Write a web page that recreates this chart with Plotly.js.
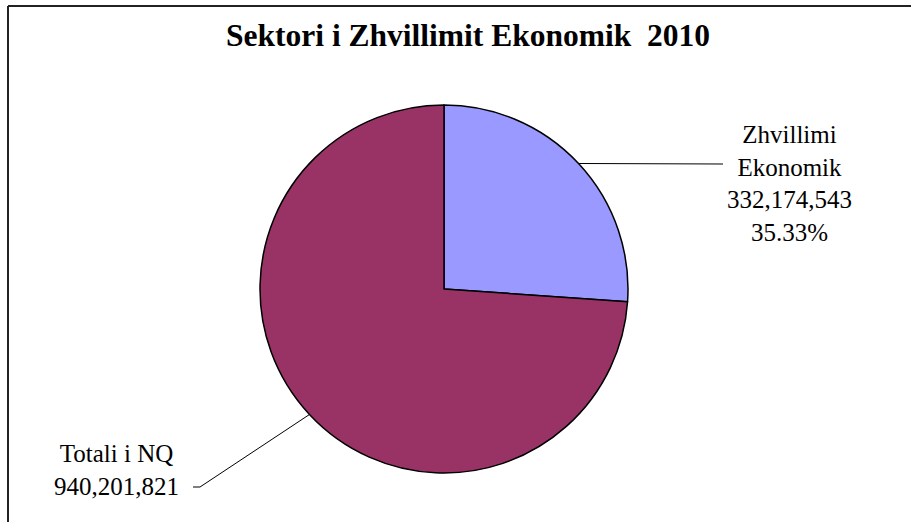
<!DOCTYPE html>
<html>
<head>
<meta charset="utf-8">
<script src="https://cdn.plot.ly/plotly-3.0.1.min.js"></script>
<style>html,body{margin:0;padding:0;background:#fff;}#chart{width:911px;height:522px;}</style>
</head>
<body>
<div id="chart"></div>
<script>
const categories = ["Zhvillimi Ekonomik", "Totali i NQ"];
const values = [332174543, 940201821];
const labelLines = [["Zhvillimi", "Ekonomik", "332,174,543", "35.33%"], ["Totali i NQ", "940,201,821"]];
const colors = ["#9999FF", "#993366"];
const titleText = "Sektori i Zhvillimit Ekonomik\u00a0\u00a02010";

const W = 911, H = 522;
const cx = 444, cy = 289, R = 184;
const font = "Liberation Serif";

const total = values.reduce((a, b) => a + b, 0);
let acc = 0;
const mids = values.map(v => { const m = (acc + v / 2) / total * 2 * Math.PI; acc += v; return m; });
const edge = mids.map(a => [cx + R * Math.sin(a), cy - R * Math.cos(a)]);
const px = x => x / W, py = y => 1 - y / H;

const labelPos = [
  {x: 789, y: 183, line: [[723, 164]]},
  {x: 116, y: 470, line: [[200, 487], [193, 487]]}
];

const shapes = [
  {type: 'line', xref: 'paper', yref: 'paper', x0: px(8), x1: px(8), y0: py(6), y1: py(522), line: {color: '#222', width: 2}},
  {type: 'line', xref: 'paper', yref: 'paper', x0: px(8), x1: px(911), y0: py(6), y1: py(6), line: {color: '#222', width: 2}}
];
const annotations = [];
categories.forEach((c, i) => {
  const pts = [edge[i]].concat(labelPos[i].line);
  const d = 'M' + pts.map(p => px(p[0]) + ',' + py(p[1])).join(' L');
  shapes.push({type: 'path', xref: 'paper', yref: 'paper', path: d, line: {color: '#000', width: 1}});
  annotations.push({
    xref: 'paper', yref: 'paper', x: px(labelPos[i].x), y: py(labelPos[i].y),
    text: labelLines[i].join('<br>'), showarrow: false, align: 'center',
    xanchor: 'center', yanchor: 'middle',
    font: {family: font, size: 25, color: '#000'}
  });
});

const trace = {
  type: 'pie', labels: categories, values: values, sort: false, direction: 'clockwise', rotation: 0,
  marker: {colors: colors, line: {color: '#000', width: 1.5}},
  textinfo: 'none', hoverinfo: 'none',
  domain: {x: [px(cx - R), px(cx + R)], y: [py(cy + R), py(cy - R)]}
};

const layout = {
  width: W, height: H, margin: {l: 0, r: 0, t: 0, b: 0},
  paper_bgcolor: '#fff', showlegend: false,
  font: {family: font, color: '#000'},
  title: {text: '<b>' + titleText + '</b>', x: 468 / W, xanchor: 'center', y: py(35), yanchor: 'middle',
          font: {family: font, size: 31.5, color: '#000'}},
  shapes: shapes, annotations: annotations
};
Plotly.newPlot('chart', [trace], layout, {displayModeBar: false, staticPlot: true});
</script>
</body>
</html>
